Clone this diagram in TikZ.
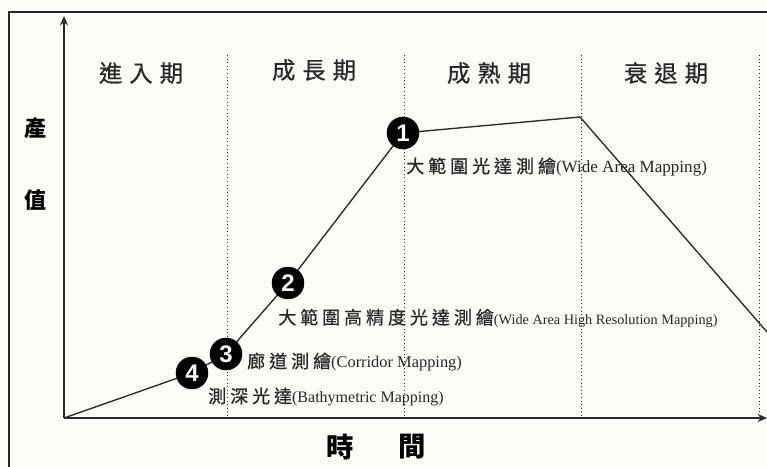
\documentclass[tikz,border=0pt]{standalone}
\usepackage{fontspec}
\setmainfont{Liberation Serif}
\newfontfamily\cjkhead[LetterSpace=30,FakeBold=0.6]{Noto Sans CJK TC}
\newfontfamily\cjklab[LetterSpace=22,FakeBold=0.6]{Noto Sans CJK TC}
\newfontfamily\cjkax{Noto Sans CJK TC}
\newfontfamily\numf{Liberation Sans}
\usetikzlibrary{arrows.meta}
\definecolor{bgc}{RGB}{252,252,248}
\definecolor{ink}{RGB}{40,40,40}
\tikzset{
  axis/.style={line width=1.3pt, ink, -{Stealth[length=7pt,width=6pt]}},
  divider/.style={ink, line width=0.7pt, dotted},
  curve/.style={ink, line width=1pt},
  numcirc/.style={circle, fill=black, draw=black, minimum size=24pt, inner sep=0pt,
     text=white, font=\numf\bfseries\fontsize{18}{18}\selectfont},
  headlab/.style={text=ink, font=\cjkhead\fontsize{17.5}{19}\selectfont, inner sep=0pt},
  axlab/.style={text=black, font=\cjkax\bfseries\fontsize{16.5}{18}\selectfont, inner sep=0pt},
  axlabx/.style={text=black, font=\cjkax\bfseries\fontsize{20.5}{22}\selectfont, inner sep=0pt},
  itemlab/.style={anchor=west, inner sep=0pt, text=ink},
}
\newcommand{\cjkpart}[1]{{\cjklab\fontsize{13.5}{15}\selectfont #1}}
\begin{document}
\begin{tikzpicture}[x=0.75pt,y=-0.75pt]
\useasboundingbox (0,0) rectangle (767,467);
\fill[bgc] (0,0) rectangle (767,467);
% frame
\draw[ink, line width=0.8pt] (767,12) -- (9,12) -- (9,467);
% axes
\coordinate (o) at (64,418);
\coordinate (ytip) at (64,16);
\coordinate (xtip) at (767,418);
\draw[axis] (o) -- (ytip);
\draw[axis] (o) -- (xtip);
% dividers
\foreach \xx/\nm in {227/d1,404/d2,581/d3,759/d4}{
  \coordinate (\nm t) at (\xx,55);
  \coordinate (\nm b) at (\xx,418);
  \draw[divider] (\nm t) -- (\nm b);
}
% stage headings
\node[headlab] (h1) at (141,73) {進入期};
\node[headlab] (h2) at (314,70) {成長期};
\node[headlab] (h3) at (489,73) {成熟期};
\node[headlab] (h4) at (666,73) {衰退期};
% axis labels
\node[axlab] (ya) at (35,128) {產};
\node[axlab] (yb) at (35,200) {值};
\node[axlabx] (xa) at (340,447) {時};
\node[axlabx] (xb) at (412,447) {間};
% curve
\coordinate (p4) at (192,373);
\coordinate (p3) at (226,354);
\coordinate (p2) at (288,283);
\coordinate (p1) at (403,133);
\coordinate (peak) at (580,117);
\coordinate (cend) at (767,332);
\draw[curve] (o) -- (p4) -- (p3) -- (p2) -- (p1) -- (peak) -- (cend);
\node[numcirc] (c4) at (p4) {4};
\node[numcirc] (c3) at (p3) {3};
\node[numcirc] (c2) at (p2) {2};
\node[numcirc] (c1) at (p1) {1};
% item labels
\node[itemlab] (l1) at (406,167) {\cjkpart{大範圍光達測繪}{\fontsize{12.8}{14}\selectfont(Wide Area Mapping)}};
\node[itemlab] (l2) at (278,318) {\cjkpart{大範圍高精度光達測繪}{\fontsize{10.7}{12}\selectfont(Wide Area High Resolution Mapping)}};
\node[itemlab] (l3) at (247,362) {\cjkpart{廊道測繪}{\fontsize{12.3}{14}\selectfont(Corridor Mapping)}};
\node[itemlab] (l4) at (208,397) {\cjkpart{測深光達}{\fontsize{12}{14}\selectfont(Bathymetric Mapping)}};
\end{tikzpicture}
\end{document}
